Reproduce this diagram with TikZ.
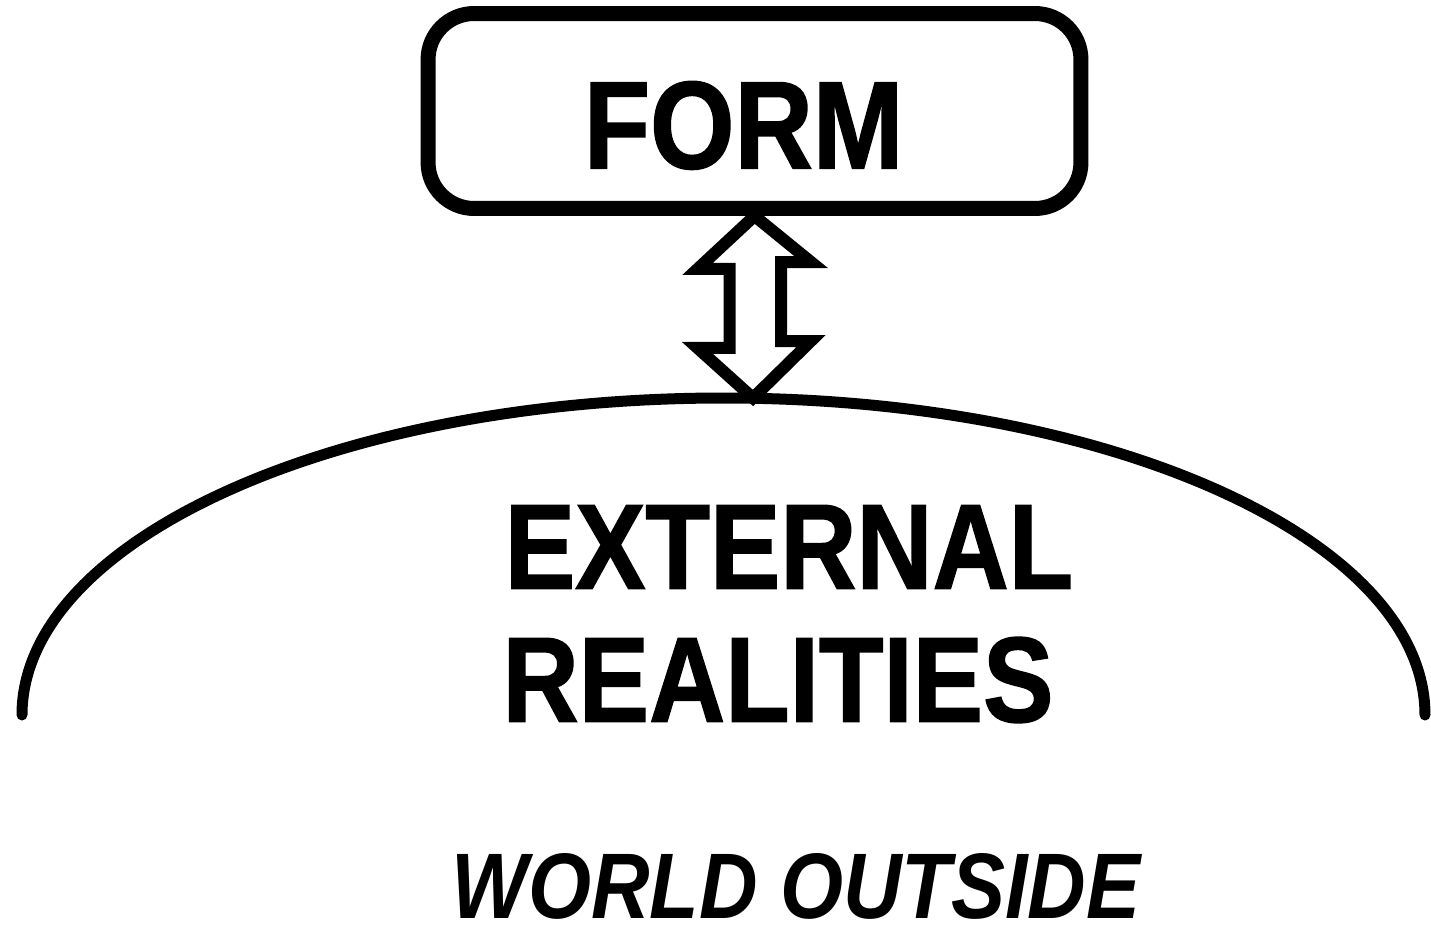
\documentclass[tikz,border=0pt]{standalone}
\usepackage{fontspec}
\newfontfamily\narrowsans[FakeStretch=0.87, BoldFeatures={FakeBold=1.2}]{Liberation Sans}
\usepackage{tikz}

\begin{document}
\begin{tikzpicture}[x=0.02cm, y=-0.02cm,
        formbox/.style={draw, line width=0.3cm, rounded corners=0.92cm, minimum width=13.06cm, minimum height=3.9cm, inner sep=0pt, text height=2.32cm, font=\narrowsans\bfseries\fontsize{71pt}{71pt}\selectfont},
        bigtext/.style={inner sep=0pt, font=\narrowsans\bfseries\fontsize{69pt}{69pt}\selectfont},
        smalltext/.style={inner sep=0pt, font=\narrowsans\bfseries\itshape\fontsize{53pt}{53pt}\selectfont},
        rimline/.style={line width=0.22cm, line cap=round},
        hollow/.style={line width=0.24cm, line join=miter}
      ]
        \useasboundingbox (0,0) rectangle (1431,933);
        \node[formbox] (form) at (754.5,111) {FORM\kern0.44cm};
        \coordinate (left) at (22,715);
        \coordinate (rim) at (753,398);
        \draw[rimline] (left) arc[start angle=180, end angle=360, x radius=701.5, y radius=317];
        \draw[hollow] (form.south) -- ++(-57,53) -- ++(32,0) -- ++(0,79) -- ++(-32,0) -- (rim)
          -- ++(58,-57) -- ++(-30,0) -- ++(0,-79) -- ++(30,0) -- cycle;
        \node[bigtext] (ext) at (789,547) {EXTERNAL};
        \node[bigtext] (real) at (778,680) {REALITIES};
        \node[smalltext] (world) at (796,886) {WORLD OUTSIDE};
      \end{tikzpicture}
\end{document}
